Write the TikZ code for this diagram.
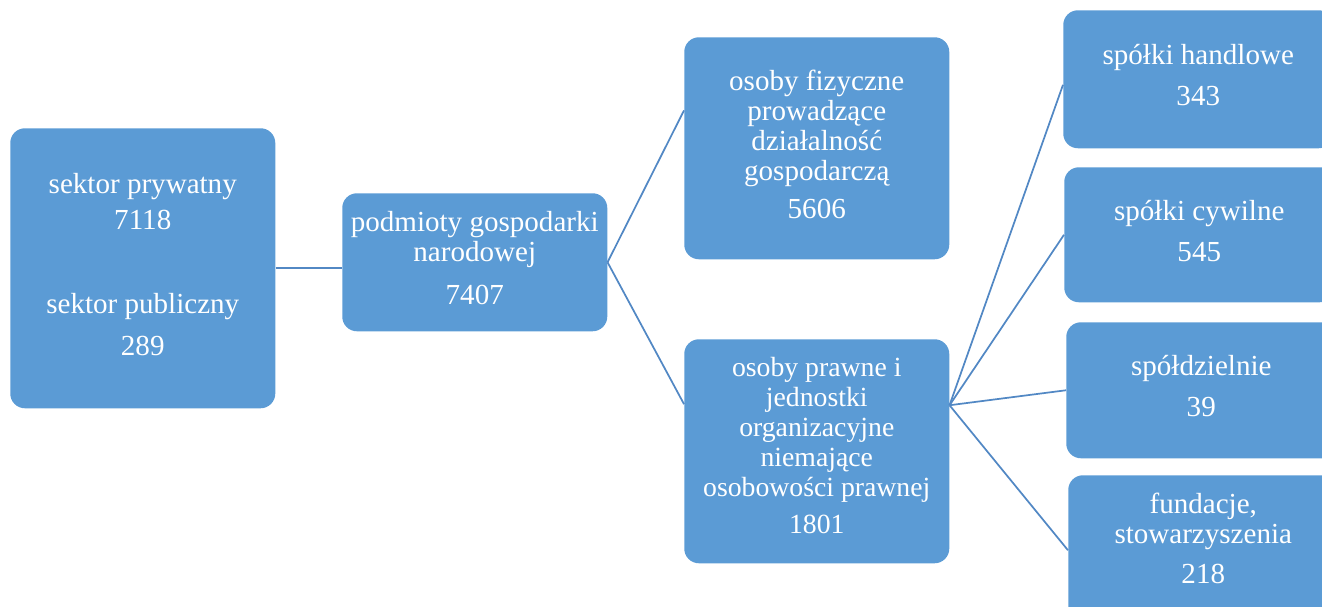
\documentclass[tikz,border=0pt]{standalone}
\usepackage{fontspec}
\setmainfont{Liberation Serif}
\usetikzlibrary{calc}
\definecolor{boxblue}{HTML}{5B9BD5}
\definecolor{lineblue}{HTML}{5288C4}
\tikzset{
  box/.style={draw=none, fill=boxblue, rounded corners=11pt, anchor=north west,
    inner sep=0pt},
  txt/.style={text=white, align=center, inner sep=0pt,
    font=\fontsize{21.8pt}{22.5pt}\selectfont},
  dtxt/.style={txt, font=\fontsize{20.8pt}{22.5pt}\selectfont},
  conn/.style={draw=lineblue, line width=1.3pt}
}
\begin{document}
\begin{tikzpicture}[x=0.75pt,y=-0.75pt]
\useasboundingbox (0,0) rectangle (1322,607);
\clip (0,0) rectangle (1322,607);
% boxes
\node[box, minimum width=198.75pt, minimum height=210pt] (A) at (10,128) {};
\node[box, minimum width=198.75pt, minimum height=103.5pt] (B) at (342,193) {};
\node[box, minimum width=198.75pt, minimum height=166.5pt] (C) at (684,37) {};
\node[box, minimum width=198.75pt, minimum height=168pt] (D) at (684,339) {};
\node[box, minimum width=202.5pt, minimum height=103.5pt] (E1) at (1063,10) {};
\node[box, minimum width=202.5pt, minimum height=101.25pt] (E2) at (1064,167) {};
\node[box, minimum width=202.5pt, minimum height=102pt] (E3) at (1066,322) {};
\node[box, minimum width=202.5pt, minimum height=112.5pt] (E4) at (1068,475) {};
% texts
\node[txt] (At) at ([yshift=3pt]A.center)
  {sektor prywatny\\[5pt]7118\\[40pt]sektor publiczny\\[9pt]289};
\node[txt] (Bt) at ([yshift=3pt]B.center)
  {podmioty gospodarki\\narodowej\\[10pt]7407};
\node[txt] (Ct) at ([yshift=3pt]C.center)
  {osoby fizyczne\\prowadzące\\działalność\\gospodarczą\\[6pt]5606};
\node[dtxt] (Dt) at ([yshift=4.5pt]D.center)
  {osoby prawne i\\jednostki\\organizacyjne\\niemające\\osobowości prawnej\\[5pt]1801};
\node[txt] (E1t) at ([yshift=3pt]E1.center) {spółki handlowe\\[8pt]343};
\node[txt] (E2t) at ([yshift=3pt]E2.center) {spółki cywilne\\[8pt]545};
\node[txt] (E3t) at ([yshift=3pt]E3.center) {spółdzielnie\\[8pt]39};
\node[txt] (E4t) at ([yshift=9pt]E4.center) {fundacje,\\stowarzyszenia\\[7pt]218};
% connectors
\coordinate (Cin) at ($(C.north west)!0.33!(C.south west)$);
\coordinate (Din) at ($(D.north west)!0.29!(D.south west)$);
\coordinate (Dout) at ($(D.north east)!0.295!(D.south east)$);
\draw[conn] (A.east) -- (A.east -| B.west);
\draw[conn] (B.east) -- (Cin);
\draw[conn] (B.east) -- (Din);
\draw[conn] (Dout) -- ($(E1.north west)!0.54!(E1.south west)$);
\draw[conn] (Dout) -- (E2.west);
\draw[conn] (Dout) -- (E3.west);
\draw[conn] (Dout) -- (E4.west);
\end{tikzpicture}
\end{document}
